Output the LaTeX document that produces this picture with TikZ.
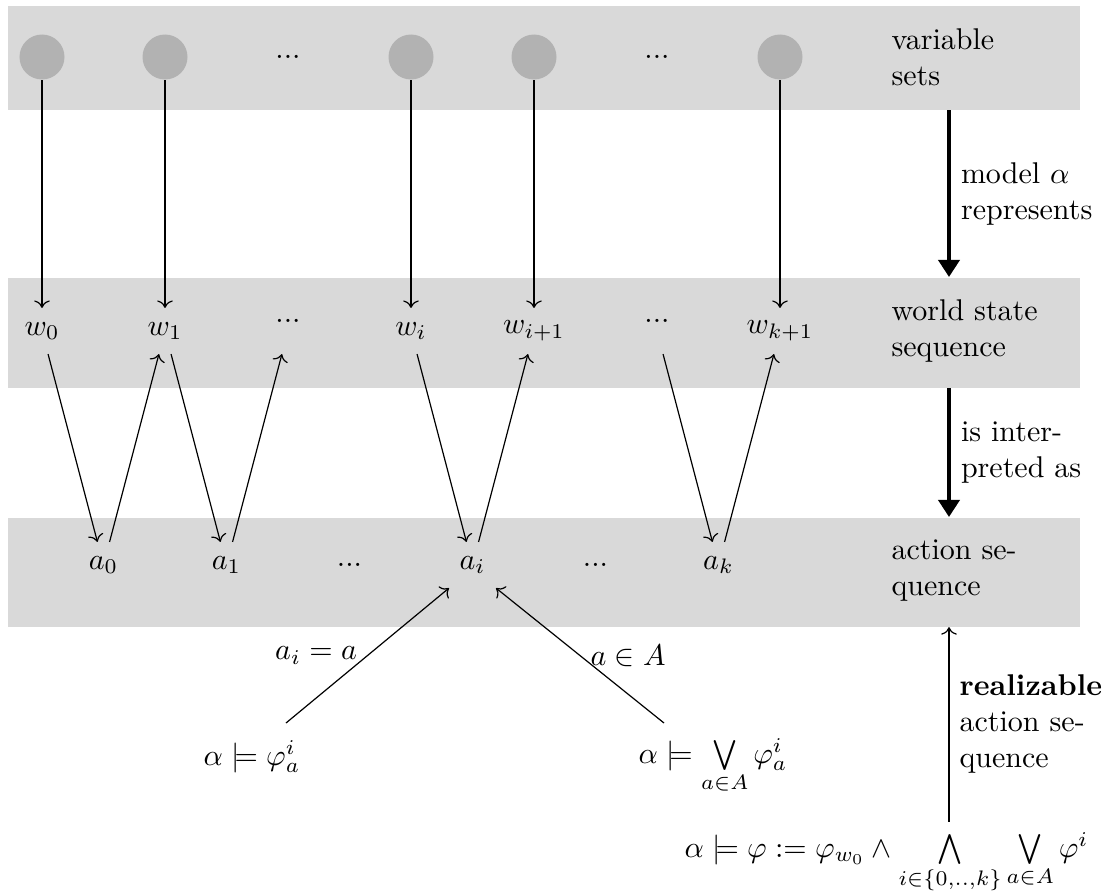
\documentclass[tikz,border=0pt]{standalone}
\usetikzlibrary{arrows.meta}
\begin{document}
\begin{tikzpicture}[x=0.33333pt,y=-0.33333pt,
  band/.style={fill=gray!30, draw=none, inner sep=0pt, anchor=north west, minimum width=357.33pt},
  vset/.style={circle, fill=gray!60, minimum size=15pt, inner sep=0pt},
  st/.style={rectangle, minimum size=15pt},
  dotsw/.style={rectangle, minimum size=15pt, text height=0pt, text depth=6pt},
  lab/.style={anchor=west, inner sep=0pt, align=left},
  bigarr/.style={-{Triangle[length=5.7pt,width=7pt]}, line width=1.33pt},
]
\useasboundingbox (0,0) rectangle (1118,893);
% bands
\node[band, minimum height=34.67pt] (band1) at (7,5) {};
\node[band, minimum height=36.67pt] (band2) at (7,277) {};
\node[band, minimum height=36.33pt] (band3) at (7,517) {};
% variable sets
\node[vset] (v0) at (42,57) {};
\node[vset] (v1) at (165,57) {};
\node[st]   (v2) at (288,57) {...};
\node[vset] (v3) at (411,57) {};
\node[vset] (v4) at (534,57) {};
\node[st]   (v5) at (657,57) {...};
\node[vset] (v6) at (780,57) {};
% world states
\node[st]    (w0) at (42,331) {$w_0$};
\node[st]    (w1) at (165,331) {$w_1$};
\node[dotsw] (w2) at (288,331) {...};
\node[st]    (w3) at (411,331) {$w_i$};
\node[st]    (w4) at (534,331) {$w_{i+1}$};
\node[dotsw] (w5) at (657,331) {...};
\node[st]    (w6) at (780,331) {$w_{k+1}$};
% actions
\node[st] (a0) at (103.5,565) {$a_0$};
\node[st] (a1) at (226.5,565) {$a_1$};
\node[st] (a2) at (349.5,565) {...};
\node[st] (a3) at (472.5,565) {$a_i$};
\node[st] (a4) at (595.5,565) {...};
\node[st] (a5) at (718.5,565) {$a_k$};
% right column labels
\node[lab] (l1) at (891,57) {variable\\sets};
\node[lab] (l2) at (891,331) {world state\\sequence};
\node[lab] (l3) at (891,571) {action se-\\quence};
% formulas
\node[anchor=base] (lf) at (252,765) {$\alpha \models \varphi^i_a$};
\node[anchor=base] (rf) at (713,763) {$\alpha \models \bigvee\limits_{a\in A} \varphi^i_a$};
\node[anchor=base] (bf) at (886.5,857) {$\alpha \models \varphi := \varphi_{w_0} \wedge \bigwedge\limits_{i\in\{0,..,k\}} \bigvee\limits_{a\in A} \varphi^i$};
\coordinate (colr) at (949,0);
\coordinate (lfa) at (286,723);
\coordinate (rfa) at (664,723);
% vertical arrows
\foreach \i in {0,1,3,4,6} { \draw[->] (v\i) -- (w\i); }
% zigzag
\draw[->] (w0) -- (a0);
\draw[->] (a0) -- (w1);
\draw[->] (w1) -- (a1);
\draw[->] (a1) -- (w2);
\draw[->] (w3) -- (a3);
\draw[->] (a3) -- (w4);
\draw[->] (w5) -- (a5);
\draw[->] (a5) -- (w6);
% formula links
\draw[->] (lfa) -- node[left] (ll) {$a_i = a$} (a3.south west);
\draw[->] (rfa) -- node[right] (rl) {$a \in A$} (a3.south east);
% thick arrows
\draw[bigarr] (band1.south -| colr) -- node[right, align=left] (t1) {model $\alpha$\\represents} (band2.north -| colr);
\draw[bigarr] (band2.south -| colr) -- node[right, align=left] (t2) {is inter-\\preted as} (band3.north -| colr);
\draw[->] (bf.north -| colr) -- node[right, align=left] (t3) {\textbf{realizable}\\action se-\\quence} (band3.south -| colr);
\end{tikzpicture}
\end{document}
